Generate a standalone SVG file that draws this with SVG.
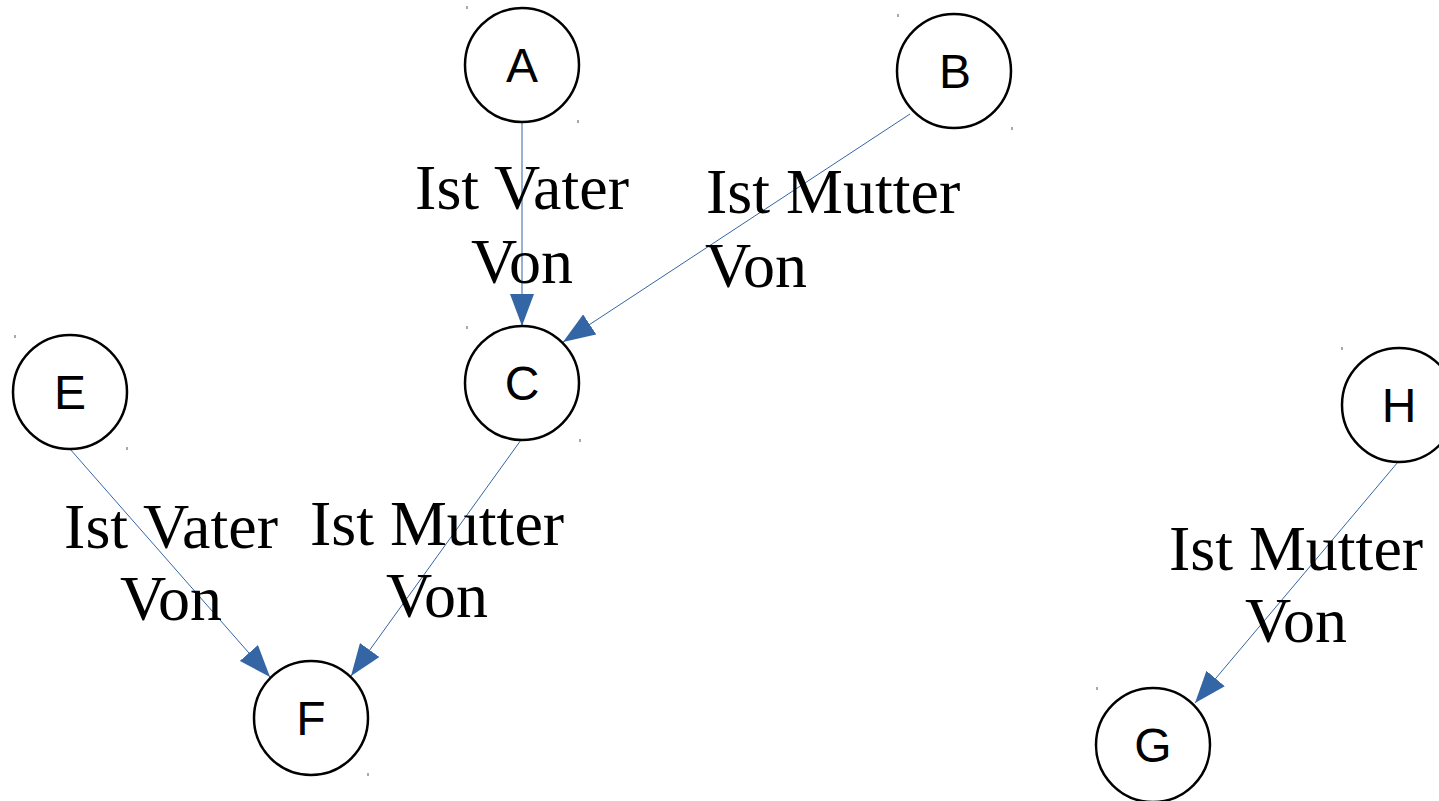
<svg xmlns="http://www.w3.org/2000/svg" width="1439" height="801" viewBox="0 0 1439 801">
  <style>
    .node circle { fill: #ffffff; stroke: #000000; stroke-width: 2.5; }
    .node text { font-family: "Liberation Sans", Arial, sans-serif; font-size: 48px; fill: #000000; text-anchor: middle; }
    .tick { stroke: #555555; stroke-width: 1; }
    .edge { fill: none; stroke: #3465a4; stroke-width: 1; }
    .label { font-family: "Liberation Serif", "Times New Roman", serif; font-size: 64px; fill: #000000; }
    .mid { text-anchor: middle; }
  </style>
  <defs>
    <marker id="arrow" markerUnits="userSpaceOnUse" markerWidth="32" markerHeight="24" viewBox="0 0 32 24" refX="32" refY="12" orient="auto">
      <path d="M0,0 L32,12 L0,24 Z" fill="#3465a4"/>
    </marker>
  </defs>

  <rect width="1439" height="801" fill="#ffffff"/>

  <!-- connectors -->
  <g id="edges">
    <path class="edge" d="M522,122 L522,326" marker-end="url(#arrow)"/>
    <path class="edge" d="M910,114 L563,342" marker-end="url(#arrow)"/>
    <path class="edge" d="M521,440 L351,676" marker-end="url(#arrow)"/>
    <path class="edge" d="M70,449 L270,677" marker-end="url(#arrow)"/>
    <path class="edge" d="M1398,462 L1195,703" marker-end="url(#arrow)"/>
  </g>

  <!-- edge labels -->
  <g id="labels">
    <text class="label mid" x="522" y="209">Ist Vater</text>
    <text class="label mid" x="522" y="283">Von</text>
    <text class="label" x="706" y="213">Ist Mutter</text>
    <text class="label" x="705" y="287">Von</text>
    <text class="label mid" x="171" y="548">Ist Vater</text>
    <text class="label mid" x="171" y="620">Von</text>
    <text class="label mid" x="437" y="545">Ist Mutter</text>
    <text class="label mid" x="437" y="617">Von</text>
    <text class="label mid" x="1296" y="570">Ist Mutter</text>
    <text class="label mid" x="1296" y="642">Von</text>
  </g>

  <!-- nodes -->
  <g id="node-A" class="node">
    <circle cx="522" cy="65" r="57"/>
    <text x="522" y="82">A</text>
    <line class="tick" x1="467" y1="6" x2="467" y2="9"/>
    <line class="tick" x1="578" y1="120" x2="578" y2="123"/>
  </g>
  <g id="node-B" class="node">
    <circle cx="954" cy="71" r="57"/>
    <text x="955" y="88">B</text>
    <line class="tick" x1="898" y1="14" x2="898" y2="17"/>
    <line class="tick" x1="1012" y1="127" x2="1012" y2="130"/>
  </g>
  <g id="node-C" class="node">
    <circle cx="522" cy="383" r="57"/>
    <text x="522" y="400">C</text>
    <line class="tick" x1="467" y1="326" x2="467" y2="329"/>
    <line class="tick" x1="580" y1="439" x2="580" y2="442"/>
  </g>
  <g id="node-E" class="node">
    <circle cx="70" cy="392" r="57"/>
    <text x="70" y="409">E</text>
    <line class="tick" x1="15" y1="335" x2="15" y2="338"/>
    <line class="tick" x1="127" y1="447" x2="127" y2="450"/>
  </g>
  <g id="node-F" class="node">
    <circle cx="311" cy="718" r="57"/>
    <text x="311" y="735">F</text>
    <line class="tick" x1="368" y1="773" x2="368" y2="776"/>
  </g>
  <g id="node-H" class="node">
    <circle cx="1399" cy="405" r="57"/>
    <text x="1399" y="422">H</text>
    <line class="tick" x1="1342" y1="347" x2="1342" y2="350"/>
  </g>
  <g id="node-G" class="node">
    <circle cx="1153" cy="745" r="57"/>
    <text x="1153" y="762">G</text>
    <line class="tick" x1="1097" y1="687" x2="1097" y2="690"/>
  </g>
</svg>
